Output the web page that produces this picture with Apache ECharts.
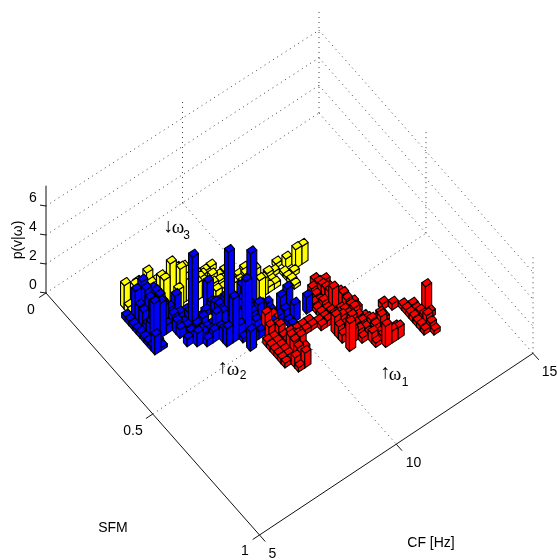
<!DOCTYPE html>
<html><head><meta charset="utf-8">
<style>html,body{margin:0;padding:0;background:#fff}#c{width:557px;height:560px}</style>
<script src="https://cdn.jsdelivr.net/npm/echarts@6/dist/echarts.min.js"></script>
</head><body><div id="c"></div>
<script>
// bin widths and origin of the histogram
const binCF = 0.228, binSFM = 0.01725, originSFM = 0.013;
// rows: [CF bin, SFM bin, p(v|w)]
const redBars = [[33,35,.42],[34,36,.42],[35,37,.3],[36,38,.35],[35,39,.3],[36,40,.45],[35,40,.35],[35,42,.35],[35,43,.3],[36,43,.54],[36,44,.3],[36,42,.8],[37,40,2.0],[35,41,.3],[30,41,1.5],[31,41,.87],[29,40,.3],[32,36,.3],[30,38,.65],[30,37,.75],[29,37,.45],[28,38,.35],[29,38,.4],[30,39,.35],[31,39,.3],[26,38,1.98],[29,33,.85],[28,35,.97],[30,33,.38],[26,34,1.26],[26,35,.85],[26,36,.55],[28,30,1.48],[29,31,1.1],[28,25,.6],[29,26,.6],[27,27,.4],[29,27,.35],[28,26,.7],[27,29,.55],[26,28,.4],[26,29,.3],[27,30,.3],[27,31,.4],[26,32,.4],[25,32,.3],[24,31,.3],[23,31,.3],[22,31,.3],[19,27,1.4],[20,29,.85],[20,32,1],[20,33,.95],[20,30,.4],[18,29,.35],[19,31,.3],[19,30,.3],[18,30,.3],[19,32,.3],[18,34,.3],[19,35,.7],[20,36,1.03],[19,33,.3],[19,34,.3],[20,34,.8],[18,25,1.2],[27,33,.8],[28,33,.8],[28,32,.6],[28,36,.7],[29,36,.6],[30,35,.35],[28,34,.8],
 [18,31,.3],[18,32,.3],[18,33,.3],[19,36,.3],[21,33,1],[21,34,.5],[21,32,.8],[21,31,.5],[21,30,.4],[20,31,.4],[19,29,.3],[19,28,.8],[20,28,.6],[20,27,1],[18,26,.8],[19,26,.5],
 [22,30,.3],[23,30,.3],[24,30,.3],[25,31,.3],[26,31,.3],[26,30,.3],[27,28,.3],[27,26,.6],[28,27,.8],[28,28,.9],[28,29,1],[27,32,.5],[29,30,.9],[29,32,1],[30,32,.5],[29,34,1],[29,35,.7],[28,37,.6],[27,36,.8],[27,37,.9],[27,35,.7],[27,34,1],[30,36,.5],[31,37,.5],[31,38,1],[32,37,.3],[30,40,.5],[29,39,.7],[31,40,.6],[32,41,.8],[32,40,.5],
 [36,39,.3],[37,41,.4],[36,41,.5],[35,38,.3]];
const blueBars = [[6,19,1.25],[6,11,.3],[6,12,.3],[6,13,.25],[6,14,.25],[6,15,.3],[6,16,.25],[6,17,.25],[6,18,.25],[7,19,.2],[7,12,2.08],[8,12,2.44],[8,13,2.16],[9,13,1.9],[7,17,2.65],[8,17,2.4],[11,16,1.75],[11,18,.45],[10,21,.5],[12,19,5.07],[11,22,.9],[15,18,2.14],[12,23,.45],[13,23,.75],[14,25,1.25],[14,24,.9],[15,25,3.04],[16,26,.3],[17,25,3.7],[16,28,1.35],[19,23,4.5],[16,22,5.15],[15,20,1.25],[14,22,1.4],[20,24,.85],[19,24,1.0],[21,24,.7],[22,26,1.45],[23,26,1.75],[23,28,1.2],[25,28,1.17],[21,27,.7],[22,28,.3],[22,29,.35],[20,26,.7],[19,26,.5],[20,27,.5],[22,27,.8],[21,25,.4],[18,27,.45],[13,21,.4],[13,19,.5],[12,22,.6],[15,22,1.2],[16,23,.9],[16,24,1.6],[17,24,1.3],[10,17,1],[9,17,.6],[10,18,.8],[10,19,.6],[8,14,1.8],[8,15,1.2],[7,14,1.2],[7,15,.6],[9,16,1.6],[9,15,2],
 [11,17,.8],[11,19,.5],[11,20,.4],[12,17,.7],[12,18,.9],[12,20,.6],[12,21,.5],[13,20,.8],[13,22,.5],[14,19,.7],[14,21,.4],[14,23,.7],[15,19,1],[15,21,1.4],[15,24,.7],[16,20,1.2],[16,21,1.7],[16,25,.9],[17,21,1.2],[17,22,1.5],[17,23,1.8],[17,27,.6],[18,22,2.2],[18,23,1.8],[18,24,1.5],[18,25,1.2],[18,26,.9],[19,25,1.5],
 [9,14,2],[10,14,1],[10,15,1],[10,16,1.2],[8,16,1.5],[7,16,1],[7,18,.3],[7,13,1.3],[8,11,1.2]];
const yellowBars = [[7,9,1.62],[8,10,1.6],[7,10,.4],[10,10,1.93],[11,11,1.4],[12,13,2.87],[13,14,2.5],[13,13,2.2],[11,12,1.9],[19,12,.35],[20,14,.35],[19,14,.25],[18,14,.6],[17,13,.6],[18,13,.3],[18,15,.3],[19,15,.25],[17,15,.4],[17,14,.35],[16,12,1],[16,13,1],[20,15,.3],[22,16,.5],[21,16,.3],[21,17,.3],[22,19,1.3],[21,22,1.75],[24,19,.5],[24,21,.35],[23,20,.35],[24,20,.25],[26,18,.3],[27,19,.65],[28,20,1.33],[29,20,1.27],[26,20,.2],[26,21,.2],[27,21,.3],[26,22,.3],[26,23,.25],[25,19,.3],[14,12,1.2],[15,12,1.1],[15,13,1.5],[16,14,1],[19,16,.4],[20,17,.4],[18,17,.6],[21,18,1],[20,18,.8],[21,20,1.2],[14,20,.3],
 [14,13,2],[14,14,1.5],[15,14,1.5],[15,15,1.2],[16,15,1],[16,16,.8],[17,16,.9],[18,16,.8],[12,12,1.6],[11,13,2],[12,15,1.6],[17,17,.7],[19,17,.5],[19,18,.9],[20,19,1],[21,19,1],[22,20,.8],[22,21,1.2],[23,21,.4],[18,12,.3],[20,16,.3],[22,17,.4],[9,9,1.2],[9,10,1.2],[10,11,1.4]];
const zTicks = [0,2,4,6], sfmTicks = [0,0.5,1], cfTicks = [5,10,15];
const zMax = 7.4, cfMin = 5, cfMax = 15, sfmMin = 0, sfmMax = 1;
const colors = ['#ff0000','#0000ff','#ffff00'];

// view: bilinear footprint of the floor, with slight perspective
const A=[46,293],B=[259.5,535],C=[533,353.3],D=[319,113];
const zs={A:14.5,B:14.8,C:13.5,D:13.8};
function proj(cf,sfm,z){
  const c=(cf-cfMin)/(cfMax-cfMin), s=(sfm-sfmMin)/(sfmMax-sfmMin);
  const wA=(1-s)*(1-c),wB=s*(1-c),wC=s*c,wD=(1-s)*c;
  const k=wA*zs.A+wB*zs.B+wC*zs.C+wD*zs.D;
  return [wA*A[0]+wB*B[0]+wC*C[0]+wD*D[0], wA*A[1]+wB*B[1]+wC*C[1]+wD*D[1]-k*z];
}
const bars=[];
[redBars,blueBars,yellowBars].forEach((rows,ci)=>rows.forEach(r=>bars.push([r[0],r[1],r[2],ci])));
bars.sort((p,q)=>proj(5+p[0]*binCF,p[1]*binSFM,0)[1]-proj(5+q[0]*binCF,q[1]*binSFM,0)[1]);

function renderBar(params,api){
  const i=api.value(0),j=api.value(1),p=api.value(2),col=colors[api.value(3)];
  const P=(di,dj,z)=>api.coord(proj(cfMin+(i+di)*binCF,originSFM+(j+dj)*binSFM,z));
  const L=[-.5,-.5],F=[-.5,.5],R=[.5,.5],Bk=[.5,-.5];
  const st={fill:col,stroke:'#000',lineWidth:1.1,lineJoin:'round'};
  const poly=pts=>({type:'polygon',shape:{points:pts},style:st});
  return {type:'group',children:[
    poly([P(L[0],L[1],0),P(F[0],F[1],0),P(F[0],F[1],p),P(L[0],L[1],p)]),
    poly([P(F[0],F[1],0),P(R[0],R[1],0),P(R[0],R[1],p),P(F[0],F[1],p)]),
    poly([P(L[0],L[1],p),P(F[0],F[1],p),P(R[0],R[1],p),P(Bk[0],Bk[1],p)])
  ]};
}
// frame and grid: [cf1,sfm1,z1,cf2,sfm2,z2,dotted]
const frame=[];
zTicks.forEach(z=>{frame.push([cfMin,sfmMin,z,cfMax,sfmMin,z,1]);frame.push([cfMax,sfmMin,z,cfMax,sfmMax,z,1]);});
cfTicks.slice(1).forEach(c=>{frame.push([c,sfmMin,0,c,sfmMin,zMax,1]);});
sfmTicks.slice(1).forEach(s=>{frame.push([cfMax,s,0,cfMax,s,zMax,1]);});
frame.push([cfTicks[1],sfmMin,0,cfTicks[1],sfmMax,0,1]);
frame.push([cfMin,sfmTicks[1],0,cfMax,sfmTicks[1],0,1]);
frame.push([cfMin,sfmMin,0,cfMin,sfmMax,0,0]);
frame.push([cfMin,sfmMax,0,cfMax,sfmMax,0,0]);
frame.push([cfMin,sfmMin,0,cfMin,sfmMin,zMax,0]);
// ticks as short data-space stubs
zTicks.forEach(z=>frame.push([cfMin,sfmMin,z,cfMin-0.22,sfmMin,z+0.33,0]));
sfmTicks.forEach(s=>frame.push([cfMin,s,0,cfMin-0.25,s,0,0]));
cfTicks.forEach(c=>frame.push([c,sfmMax,0,c,sfmMax+0.027,0,0]));

function renderFrame(params,api){
  const a=api.coord(proj(api.value(0),api.value(1),api.value(2)));
  const b=api.coord(proj(api.value(3),api.value(4),api.value(5)));
  const dotted=api.value(6);
  return {type:'line',shape:{x1:a[0],y1:a[1],x2:b[0],y2:b[1]},
    style:{stroke:dotted?'#444':'#111',lineWidth:1,lineDash:dotted?[1,4]:null,fill:null}};
}
const sym='19px "Liberation Serif"', arrow='20px "Liberation Serif"', sub='12px "Liberation Sans"';
const txt=(x,y,t,o)=>({type:'text',x,y,style:Object.assign({text:t,font:'14px "Liberation Sans"',fill:'#000',textAlign:'center',textVerticalAlign:'middle'},o||{})});
const labels=[
 txt(33,198,'6'),txt(33,227,'4'),txt(33,256,'2'),txt(33,285,'0'),txt(31,310,'0'),
 txt(133,431,'0.5'),txt(245,551,'1'),txt(272.5,554,'5'),txt(413.5,463,'10'),txt(549.5,372,'15'),
 txt(113,528,'SFM'),txt(431,543,'CF [Hz]'),
 Object.assign(txt(0,0,'p(v|ω)'),{x:18.5,y:240,rotation:Math.PI/2}),
 txt(168,227,'↓',{font:arrow}),txt(178,228,'ω',{font:sym}),txt(186.5,236,'3',{font:sub}),
 txt(222.5,368,'↑',{font:arrow}),txt(233,370,'ω',{font:sym}),txt(243,376,'2',{font:sub}),
 txt(385,373,'↑',{font:arrow}),txt(395,375,'ω',{font:sym}),txt(405,383,'1',{font:sub})
];
const chart=echarts.init(document.getElementById('c'),null,{renderer:'canvas'});
chart.setOption({
  animation:false,backgroundColor:'#fff',
  grid:{left:0,top:0,right:0,bottom:0},
  xAxis:{type:'value',min:0,max:557,show:false},
  yAxis:{type:'value',min:0,max:560,inverse:true,show:false},
  series:[
   {type:'custom',coordinateSystem:'cartesian2d',renderItem:renderFrame,data:frame,z:1,silent:true,clip:false,encode:{x:0,y:1}},
   {type:'custom',coordinateSystem:'cartesian2d',renderItem:renderBar,data:bars,z:2,silent:true,clip:false,encode:{x:0,y:1}}
  ],
  graphic:{elements:labels}
});
</script></body></html>
